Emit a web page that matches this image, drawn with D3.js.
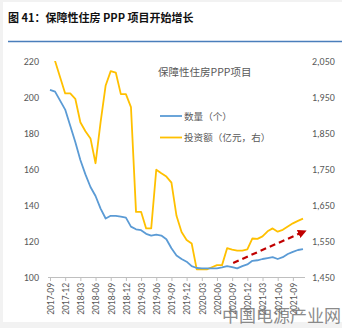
<!DOCTYPE html>
<html><head><meta charset="utf-8">
<script src="https://cdn.jsdelivr.net/npm/d3@7"></script>
<style>body{margin:0;background:#f2f2f2}svg{display:block}</style>
</head><body><svg id="c" width="342" height="328"></svg>
<script>
const tickLabels = ["2017-09","2017-12","2018-03","2018-06","2018-09","2018-12","2019-03","2019-06","2019-09","2019-12","2020-03","2020-06","2020-09","2020-12","2021-03","2021-06","2021-09"];
const countValues = [204,203,198,193,184,175,165,157,150,145,138,132.5,134,134,133.5,133,128,126.5,126,124,123,123.5,123,121,116,112,110,108.5,106,105,104.8,104.8,104.8,104.8,105.3,106,105.5,104.8,106,107,109,109.3,110,110.5,111,110,111,112.8,114,115,115.5];
const investValues = [2095,2050,2005,1960,1960,1945,1880,1855,1835,1766,1880,1982,2022,2018,1958,1958,1922,1631,1631,1585,1585,1748,1738,1729,1712,1620,1575,1553,1543,1471,1471,1471,1477,1483,1483,1530,1526,1523,1523,1527,1557,1556,1563,1577,1585,1576,1581,1590,1599,1606,1612];
const leftTicks = [100,120,140,160,180,200,220];
const rightTicks = [1450,1550,1650,1750,1850,1950,2050];
const arrowFrom = [36.2, 107.8];
const arrowTo = [50.4, 125.5];

const svg = d3.select("#c");
svg.append("rect").attr("x",3).attr("y",2).attr("width",339).attr("height",320).attr("fill","#fff");

const x = d3.scaleLinear().domain([0,50]).range([50,303]);
const yL = d3.scaleLinear().domain([100,220]).range([277,61]);
const yR = d3.scaleLinear().domain([1450,2050]).range([277,61]);
const cjk = "'Noto Sans CJK SC','Microsoft YaHei',sans-serif";
const txt = "#595959";

svg.append("text").attr("x",8).attr("y",21.5).attr("font-family",cjk).attr("font-weight","bold")
  .attr("font-size",11).attr("fill","#111").text("图 41：保障性住房 PPP 项目开始增长");
svg.append("line").attr("x1",8).attr("x2",342).attr("y1",41.5).attr("y2",41.5).attr("stroke","#4a7ebb").attr("stroke-width",1.3);

// axes
const gl = svg.append("g").attr("transform","translate(48,0)")
  .call(d3.axisLeft(yL).tickValues(leftTicks).tickSize(0).tickPadding(9));
gl.select(".domain").remove();
gl.selectAll("text").attr("font-family","Calibri,'Liberation Sans',Arial,sans-serif").attr("font-size",10).attr("fill",txt);

const gr = svg.append("g").attr("transform","translate(305,0)")
  .call(d3.axisRight(yR).tickValues(rightTicks).tickSize(0).tickPadding(7).tickFormat(d3.format(",")));
gr.select(".domain").remove();
gr.selectAll("text").attr("font-family","Calibri,'Liberation Sans',Arial,sans-serif").attr("font-size",10).attr("fill",txt);

const gx = svg.append("g").attr("transform","translate(0,277)")
  .call(d3.axisBottom(x).tickValues(tickLabels.map((d,i)=>i*3)).tickSize(4).tickFormat((d,i)=>tickLabels[i]));
gx.select(".domain").attr("d","M48,0.5H305").attr("stroke","#bfbfbf");
gx.selectAll(".tick line").attr("stroke","#bfbfbf");
gx.selectAll("text").attr("font-family","Calibri,'Liberation Sans',Arial,sans-serif").attr("font-size",9.5).attr("fill",txt)
  .attr("transform","rotate(-90)").attr("text-anchor","end").attr("x",-6).attr("y",0).attr("dy","0.35em");

// clip
svg.append("clipPath").attr("id","pa").append("rect").attr("x",40).attr("y",61).attr("width",270).attr("height",217);
const lineL = d3.line().x((d,i)=>x(i)).y(d=>yL(d));
const lineR = d3.line().x((d,i)=>x(i)).y(d=>yR(d));
svg.append("path").attr("clip-path","url(#pa)").attr("d",lineR(investValues)).attr("fill","none").attr("stroke","#FFC000").attr("stroke-width",1.8).attr("stroke-linejoin","round");
svg.append("path").attr("clip-path","url(#pa)").attr("d",lineL(countValues)).attr("fill","none").attr("stroke","#5B9BD5").attr("stroke-width",1.8).attr("stroke-linejoin","round");

// arrow
svg.append("defs").append("marker").attr("id","ah").attr("viewBox","0 0 10 10").attr("refX",8).attr("refY",5)
  .attr("markerWidth",4).attr("markerHeight",4).attr("orient","auto")
  .append("path").attr("d","M0,0L10,5L0,10z").attr("fill","#C00000");
svg.append("line").attr("x1",x(arrowFrom[0])).attr("y1",yL(arrowFrom[1])).attr("x2",x(arrowTo[0])).attr("y2",yL(arrowTo[1]))
  .attr("stroke","#C00000").attr("stroke-width",2.2).attr("stroke-dasharray","6,4").attr("marker-end","url(#ah)");

// legend
svg.append("text").attr("x",158).attr("y",75.5).attr("font-family",cjk).attr("font-size",10.5).attr("fill",txt).text("保障性住房PPP项目");
const leg = [["数量（个）","#5B9BD5",116],["投资额（亿元，右）","#FFC000",137.5]];
leg.forEach(([t,c,yy])=>{
  svg.append("line").attr("x1",160).attr("x2",182).attr("y1",yy).attr("y2",yy).attr("stroke",c).attr("stroke-width",1.8);
  svg.append("text").attr("x",184).attr("y",yy+3.5).attr("font-family",cjk).attr("font-size",9.6).attr("fill",txt).text(t);
});

// watermark
svg.append("text").attr("x",341).attr("y",322).attr("text-anchor","end").attr("font-family",cjk).attr("font-size",17)
  .attr("fill","#777").attr("opacity",0.85).text("中国电源产业网");
</script></body></html>
